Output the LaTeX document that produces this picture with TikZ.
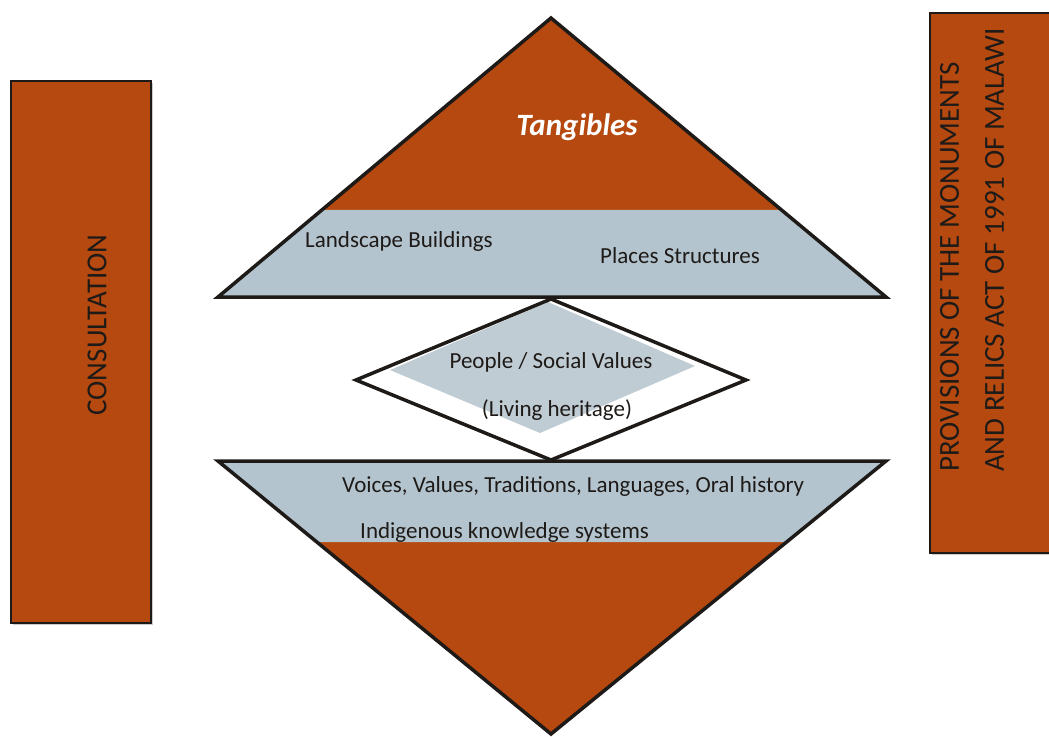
\documentclass[tikz,border=0pt]{standalone}
\usepackage{fontspec}
\setmainfont{Carlito}
\usetikzlibrary{calc}
\definecolor{rust}{RGB}{181,73,15}
\definecolor{mist}{RGB}{180,196,206}
\definecolor{mistlight}{RGB}{192,204,211}
\definecolor{ink}{RGB}{30,26,24}

\begin{document}
\begin{tikzpicture}[x=1pt,y=-1pt,
  outline/.style={draw=ink, line width=3.5pt, line join=miter},
  lbl/.style={font=\fontsize{23}{27}\selectfont, inner sep=0pt, text=ink},
  sidebox/.style={fill=rust, draw=ink, line width=2.5pt},
  sidetext/.style={font=\fontsize{29}{45}\selectfont, text=ink, rotate=90, inner sep=0pt}]
\useasboundingbox (0,0) rectangle (1049,736);

% side panels with a faint drop shadow
\fill[black!20] (13,83) rectangle (153,625);
\draw[sidebox] (11,81) rectangle (151,623);
\fill[black!20] (932,15) rectangle (1052,555);
\draw[sidebox] (930,13) rectangle (1056,553);
\node[sidetext] (consult) at (97,325) {CONSULTATION};
\node[sidetext, anchor=west, align=left] (provisions) at (972,472)
  {PROVISIONS OF THE MONUMENTS\\AND RELICS ACT OF 1991 OF MALAWI};

% upper triangle: tangibles
\coordinate (tA) at (551,18);
\coordinate (tL) at (218,297);
\coordinate (tR) at (886,297);
\fill[rust] (tA) -- (tL) -- (tR) -- cycle;
\fill[mist] ($(tL)!0.312!(tA)$) -- (tL) -- (tR) -- ($(tR)!0.312!(tA)$) -- cycle;
\draw[outline] (tA) -- (tL) -- (tR) -- cycle;

% middle diamond: living heritage
\coordinate (dW) at (356,380);
\coordinate (dN) at (551,299);
\coordinate (dE) at (746,380);
\coordinate (dS) at (551,460);
\fill[white] (dW) -- (dN) -- (dE) -- (dS) -- cycle;
\fill[mistlight] (548,302) -- (695,366) -- (540,433) -- (390,370) -- cycle;
\draw[outline] (dW) -- (dN) -- (dE) -- (dS) -- cycle;

% lower triangle: intangibles
\coordinate (bA) at (551,734);
\coordinate (bL) at (218,461);
\coordinate (bR) at (886,461);
\fill[rust] (bA) -- (bL) -- (bR) -- cycle;
\fill[mist] (bL) -- (bR) -- ($(bR)!0.297!(bA)$) -- ($(bL)!0.297!(bA)$) -- cycle;
\draw[outline] (bA) -- (bL) -- (bR) -- cycle;

% labels
\node[font=\bfseries\itshape\fontsize{31}{36}\selectfont, text=white, inner sep=0pt] (tangibles) at (577,127) {Tangibles};
\node[lbl, anchor=west] (landscape) at (305,241) {Landscape Buildings};
\node[lbl, anchor=west] (places) at (600,256) {Places Structures};
\node[lbl] (people) at (551,362) {People / Social Values};
\node[lbl] (living) at (557,410) {(Living heritage)};
\node[lbl, anchor=west] (voices) at (342,486) {Voices, Values, Traditions, Languages, Oral history};
\node[lbl, anchor=west] (indigenous) at (360,532) {Indigenous knowledge systems};
\end{tikzpicture}
\end{document}
